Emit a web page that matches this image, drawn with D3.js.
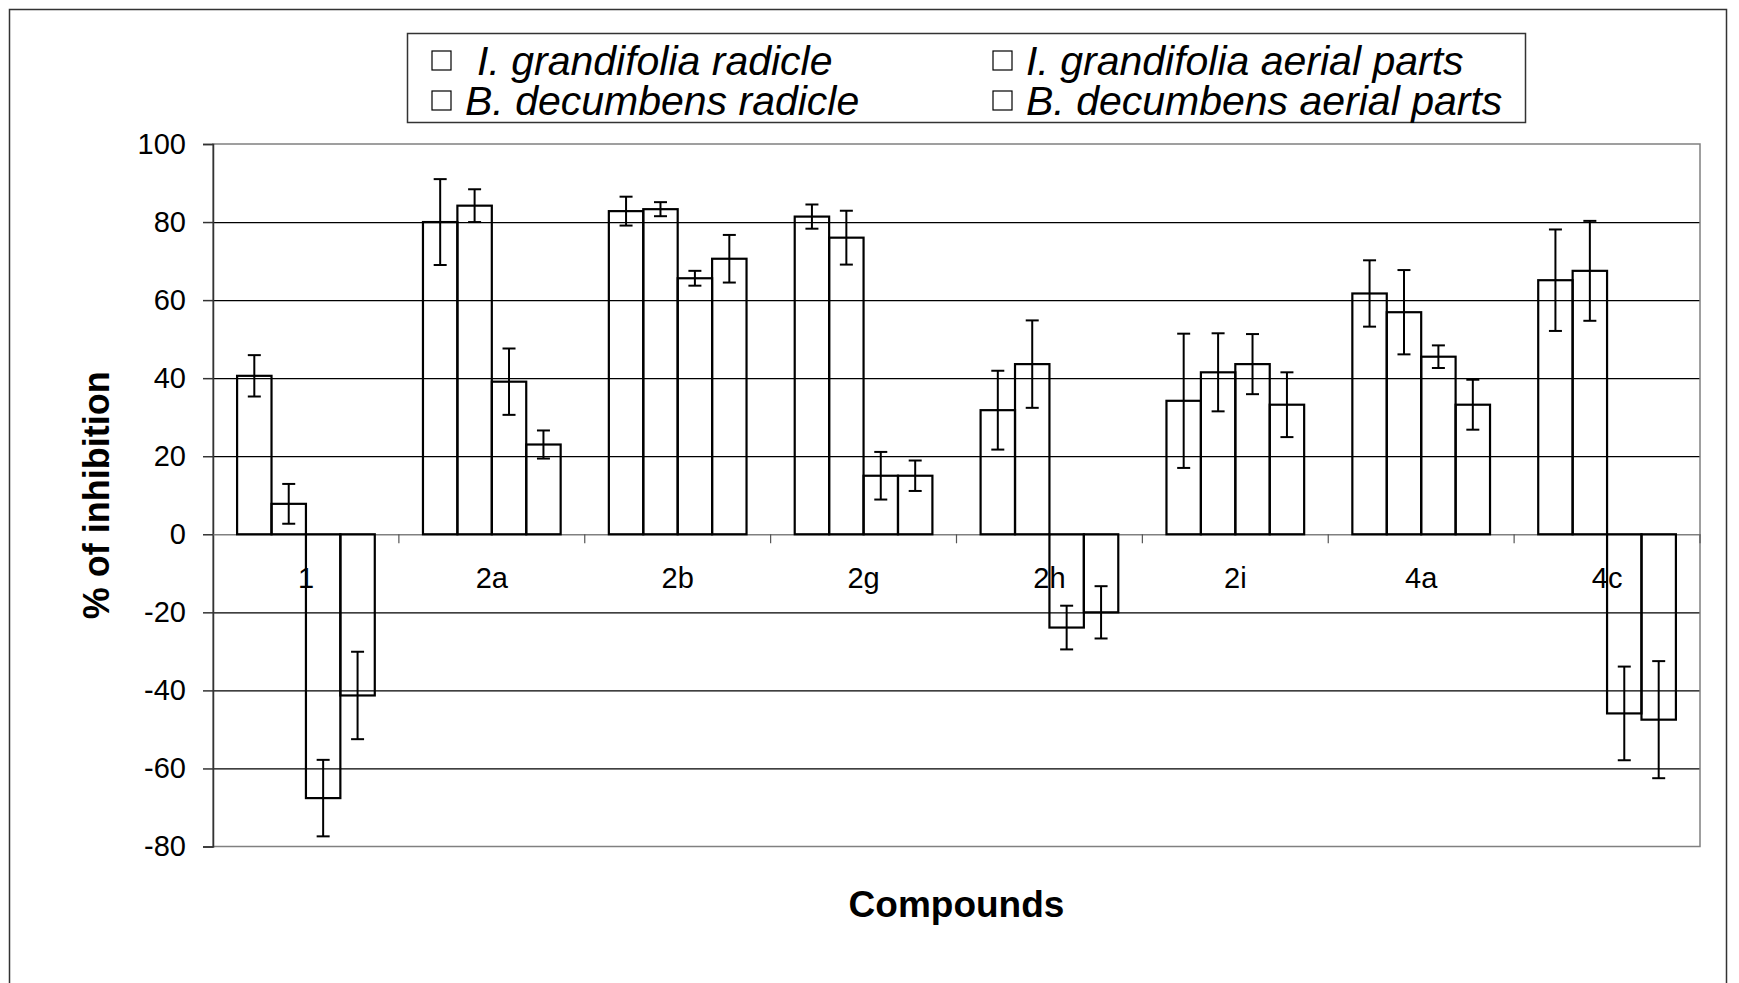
<!DOCTYPE html>
<html>
<head>
<meta charset="utf-8">
<script src="https://cdn.jsdelivr.net/npm/d3@7"></script>
<style>
  body { margin: 0; background: #fff; }
  svg { display: block; font-family: "Liberation Sans", Arial, sans-serif; }
</style>
</head>
<body>
<svg id="chart" width="1739" height="983"></svg>
<script>
var compounds = ['1', '2a', '2b', '2g', '2h', '2i', '4a', '4c'];
var seriesNames = ['I. grandifolia radicle', 'I. grandifolia aerial parts',
                   'B. decumbens radicle', 'B. decumbens aerial parts'];

var igRadicle    = [40.6, 80.0, 82.8, 81.4, 31.8, 34.2, 61.7, 65.1];
var igRadicleErr = [5.3, 11.0, 3.7, 3.1, 10.1, 17.2, 8.5, 13.0];
var igAerial     = [7.8, 84.2, 83.3, 76.0, 43.6, 41.5, 56.9, 67.5];
var igAerialErr  = [5.1, 4.2, 1.8, 6.9, 11.2, 10.0, 10.8, 12.8];
var bdRadicle    = [-67.6, 39.1, 65.6, 15.0, -23.9, 43.6, 45.5, -45.9];
var bdRadicleErr = [9.8, 8.5, 1.9, 6.1, 5.6, 7.7, 2.9, 12.0];
var bdAerial     = [-41.3, 23.0, 70.6, 15.0, -20.0, 33.2, 33.2, -47.5];
var bdAerialErr  = [11.2, 3.6, 6.1, 3.9, 6.7, 8.3, 6.4, 15.0];

var yTicks = [-80, -60, -40, -20, 0, 20, 40, 60, 80, 100];

var seriesValues = [igRadicle, igAerial, bdRadicle, bdAerial];
var seriesErrors = [igRadicleErr, igAerialErr, bdRadicleErr, bdAerialErr];

var svg = d3.select('#chart');
var plot = { left: 213, right: 1700, top: 144, bottom: 846.5 };

// outer frame (bottom edge runs off the picture, as in the original)
svg.append('rect')
  .attr('x', 9.5).attr('y', 9.5)
  .attr('width', 1717).attr('height', 985)
  .attr('fill', '#fff')
  .attr('stroke', '#333').attr('stroke-width', 1.5);

var x0 = d3.scaleBand()
  .domain(compounds)
  .range([plot.left, plot.right])
  .paddingInner(0).paddingOuter(0);

var x1 = d3.scaleBand()
  .domain(d3.range(seriesNames.length))
  .range([0, x0.bandwidth()])
  .paddingInner(0).paddingOuter(0.7);

var y = d3.scaleLinear()
  .domain([-80, 100])
  .range([plot.bottom, plot.top]);

// gridlines
svg.append('g').attr('class', 'grid')
  .selectAll('line')
  .data(yTicks.filter(function(d) { return d !== 0 && d !== 100 && d !== -80; }))
  .enter().append('line')
  .attr('x1', plot.left).attr('x2', plot.right)
  .attr('y1', function(d) { return y(d) + 0.5; })
  .attr('y2', function(d) { return y(d) + 0.5; })
  .attr('stroke', '#000').attr('stroke-width', 1.2);

// plot area border in grey
svg.append('rect')
  .attr('x', plot.left).attr('y', y(100))
  .attr('width', plot.right - plot.left)
  .attr('height', y(-80) - y(100))
  .attr('fill', 'none')
  .attr('stroke', '#808080').attr('stroke-width', 1.5);

// y axis
var yAxis = d3.axisLeft(y)
  .tickValues(yTicks)
  .tickSize(10)
  .tickPadding(17)
  .tickFormat(function(d) { return String(d); });

var yAxisG = svg.append('g')
  .attr('transform', 'translate(' + plot.left + ',0)')
  .call(yAxis);
yAxisG.select('.domain').attr('stroke', '#333').attr('stroke-width', 1.5);
yAxisG.selectAll('.tick line').attr('stroke', '#333').attr('stroke-width', 1.5);
yAxisG.selectAll('.tick text')
  .attr('font-size', 29).attr('fill', '#000')
  .attr('font-family', '"Liberation Sans", Arial, sans-serif');

// x axis at zero
var xAxis = d3.axisBottom(x0).tickSize(0).tickPadding(33);
var xAxisG = svg.append('g')
  .attr('transform', 'translate(0,' + y(0) + ')')
  .call(xAxis);
xAxisG.select('.domain').attr('stroke', '#808080').attr('stroke-width', 1.5);
xAxisG.selectAll('.tick text')
  .attr('font-size', 29).attr('fill', '#000')
  .attr('font-family', '"Liberation Sans", Arial, sans-serif');

// category separator ticks
svg.append('g')
  .selectAll('line')
  .data(compounds)
  .enter().append('line')
  .attr('x1', function(d) { return x0(d) + x0.bandwidth(); })
  .attr('x2', function(d) { return x0(d) + x0.bandwidth(); })
  .attr('y1', y(0)).attr('y2', y(0) + 9)
  .attr('stroke', '#555').attr('stroke-width', 1.2);

// bars
var groups = svg.append('g').attr('class', 'bars')
  .selectAll('g')
  .data(compounds)
  .enter().append('g')
  .attr('transform', function(d) { return 'translate(' + x0(d) + ',0)'; });

groups.selectAll('rect')
  .data(function(d, i) {
    return seriesValues.map(function(vals, s) { return { s: s, v: vals[i] }; });
  })
  .enter().append('rect')
  .attr('x', function(d) { return x1(d.s); })
  .attr('width', x1.bandwidth())
  .attr('y', function(d) { return y(Math.max(0, d.v)); })
  .attr('height', function(d) { return Math.abs(y(d.v) - y(0)); })
  .attr('fill', 'none')
  .attr('stroke', '#000').attr('stroke-width', 2.2);

// error bars
var errs = groups.selectAll('g.err')
  .data(function(d, i) {
    return seriesValues.map(function(vals, s) {
      return { s: s, v: vals[i], e: seriesErrors[s][i] };
    });
  })
  .enter().append('g').attr('class', 'err')
  .attr('stroke', '#000').attr('stroke-width', 2);

errs.append('line')
  .attr('x1', function(d) { return x1(d.s) + x1.bandwidth() / 2; })
  .attr('x2', function(d) { return x1(d.s) + x1.bandwidth() / 2; })
  .attr('y1', function(d) { return y(d.v + d.e); })
  .attr('y2', function(d) { return y(d.v - d.e); });

errs.selectAll('line.cap')
  .data(function(d) { return [{ s: d.s, v: d.v + d.e }, { s: d.s, v: d.v - d.e }]; })
  .enter().append('line').attr('class', 'cap')
  .attr('x1', function(d) { return x1(d.s) + x1.bandwidth() / 2 - 6.5; })
  .attr('x2', function(d) { return x1(d.s) + x1.bandwidth() / 2 + 6.5; })
  .attr('y1', function(d) { return y(d.v); })
  .attr('y2', function(d) { return y(d.v); });

// axis titles
svg.append('text')
  .attr('transform', 'translate(109,' + (plot.top + plot.bottom) / 2 + ') rotate(-90)')
  .attr('text-anchor', 'middle')
  .attr('font-size', 36).attr('font-weight', 'bold')
  .text('% of inhibition');

svg.append('text')
  .attr('x', (plot.left + plot.right) / 2).attr('y', 917)
  .attr('text-anchor', 'middle')
  .attr('font-size', 37).attr('font-weight', 'bold')
  .text('Compounds');

// legend
var legend = svg.append('g').attr('class', 'legend');
legend.append('rect')
  .attr('x', 407.5).attr('y', 33.5)
  .attr('width', 1118).attr('height', 89)
  .attr('fill', '#fff')
  .attr('stroke', '#333').attr('stroke-width', 1.5);

var legendX = d3.scaleOrdinal().domain([0, 1]).range([432, 993]);
var legendY = d3.scaleOrdinal().domain([0, 1]).range([61, 101]);

var items = legend.selectAll('g.item')
  .data(seriesNames)
  .enter().append('g').attr('class', 'item')
  .attr('transform', function(d, i) {
    return 'translate(' + legendX(i % 2) + ',' + legendY(Math.floor(i / 2)) + ')';
  });

items.append('rect')
  .attr('x', 0).attr('y', -10)
  .attr('width', 19).attr('height', 19)
  .attr('fill', '#fff')
  .attr('stroke', '#000').attr('stroke-width', 1.2);

items.append('text')
  .attr('x', function(d, i) { return i === 0 ? 45 : 33; })
  .attr('y', 14)
  .attr('font-size', 41).attr('font-style', 'italic')
  .text(function(d) { return d; });
</script>
</body>
</html>
